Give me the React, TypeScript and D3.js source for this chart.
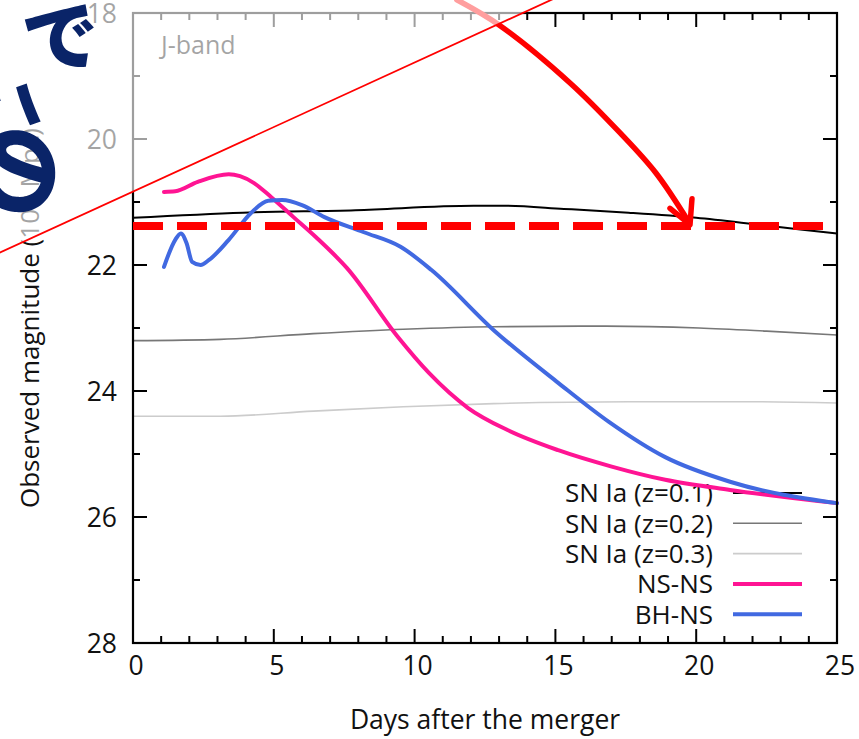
import React from 'react';
import * as d3 from 'd3';

const W = 859;
const H = 739;

const xMajorTicks = [0, 5, 10, 15, 20, 25];
const yMajorTicks = [18, 20, 22, 24, 26, 28];

const sn01Days = [0, 3.9, 7.9, 12.1, 13.2, 15.3, 17.6, 20, 22.4, 25];
const sn01Mag = [21.25, 21.17, 21.13, 21.06, 21.06, 21.11, 21.17, 21.25, 21.37, 21.5];

const sn02Days = [0, 3.1, 6.4, 9.6, 12.8, 16.8, 20.1, 22.5, 25];
const sn02Mag = [23.2, 23.18, 23.09, 23.02, 22.98, 22.97, 23.0, 23.05, 23.11];

const sn03Days = [0, 3.1, 6.4, 9.6, 12.8, 17.6, 21.7, 25];
const sn03Mag = [24.4, 24.4, 24.32, 24.25, 24.2, 24.17, 24.17, 24.19];

const nsnsDays = [1.1, 1.5, 2.3, 3.4, 3.8, 4.3, 4.9, 5.7, 6.5, 7.6, 9.4, 10.5, 11.9, 13.3, 15.1, 17.0, 18.9, 21.2, 25];
const nsnsMag = [20.84, 20.83, 20.68, 20.56, 20.59, 20.7, 20.92, 21.24, 21.56, 22.05, 23.14, 23.71, 24.27, 24.62, 24.94, 25.2, 25.41, 25.57, 25.78];

const bhnsDays = [1.1, 1.5, 1.7, 1.9, 2.1, 2.4, 2.7, 3.4, 4.2, 4.8, 5.3, 6.0, 6.8, 8.2, 9.5, 10.6, 12.8, 15.1, 16.9, 18.9, 21.2, 25];
const bhnsMag = [22.03, 21.6, 21.5, 21.65, 21.95, 22.0, 21.92, 21.6, 21.17, 20.98, 20.97, 21.05, 21.24, 21.48, 21.71, 22.08, 23.03, 23.87, 24.49, 25.05, 25.44, 25.78];

const legendLabels = ['SN Ia (z=0.1)', 'SN Ia (z=0.2)', 'SN Ia (z=0.3)', 'NS-NS', 'BH-NS'];

// annotations (in data units)
const dashedLevel = 21.38;
const arrowDays = [11.5, 13.0, 15.52, 17.29, 18.57, 19.74];
const arrowMags = [17.79, 18.19, 19.11, 19.9, 20.54, 21.32];
const arrowHeadDays = [19.07, 19.78, 19.85];
const arrowHeadMags = [21.1, 21.36, 20.95];
const guideDays = [-5.2, 15.3];
const guideMags = [21.9, 17.7];

const FONT = '"Open Sans", "Noto Sans", sans-serif';

export default function App() {
  const x = d3.scaleLinear().domain([0, 25]).range([133, 837]);
  const y = d3.scaleLinear().domain([18, 28]).range([13, 643]);

  const lineGen = d3
    .line<[number, number]>()
    .x((d) => x(d[0]))
    .y((d) => y(d[1]))
    .curve(d3.curveMonotoneX);

  const zip = (a: number[], b: number[]) => a.map((v, i) => [v, b[i]] as [number, number]);

  const series = [
    { days: sn01Days, mag: sn01Mag, color: '#000000', width: 2 },
    { days: sn02Days, mag: sn02Mag, color: '#777777', width: 1.6 },
    { days: sn03Days, mag: sn03Mag, color: '#cccccc', width: 1.6 },
    { days: nsnsDays, mag: nsnsMag, color: '#ff1493', width: 4 },
    { days: bhnsDays, mag: bhnsMag, color: '#4169e1', width: 4 },
  ];

  const xMinor = d3.range(0, 26, 1);
  const yMinor = d3.range(18, 29, 1);

  const left = x(0), right = x(25), top = y(18), bottom = y(28);

  const legendY0 = 493;
  const legendDy = 30.3;

  const arrowPath = d3
    .line<[number, number]>()
    .x((d) => x(d[0]))
    .y((d) => y(d[1]))
    .curve(d3.curveCatmullRom)(zip(arrowDays, arrowMags)) as string;

  const headPts = zip(arrowHeadDays, arrowHeadMags).map((d) => [x(d[0]), y(d[1])]);

  const g1 = [x(guideDays[0]), y(guideMags[0])];
  const g2 = [x(guideDays[1]), y(guideMags[1])];
  const fadePoly = `M${g1[0]},${g1[1]} L${g2[0]},${g2[1]} L${g2[0]},-20 L-20,-20 L-20,${g1[1]} Z`;

  const navy = '#0a2468';

  return (
    <svg
      width={W}
      height={H}
      style={{ position: 'absolute', left: 0, top: 0, display: 'block', background: '#fff' }}
      fontFamily={FONT}
    >
      <rect x={0} y={0} width={W} height={H} fill="#fff" />

      {/* legend */}
      {legendLabels.map((lab, i) => (
        <g key={lab}>
          <text
            x={713}
            y={legendY0 + i * legendDy}
            dy="0.36em"
            textAnchor="end"
            fontSize={26}
            fill="#111"
          >
            {lab}
          </text>
          <line
            x1={733}
            x2={802}
            y1={legendY0 + i * legendDy}
            y2={legendY0 + i * legendDy}
            stroke={series[i].color}
            strokeWidth={series[i].width}
          />
        </g>
      ))}

      {/* curves */}
      {series.map((s, i) => (
        <path
          key={i}
          d={lineGen(zip(s.days, s.mag)) as string}
          fill="none"
          stroke={s.color}
          strokeWidth={s.width}
          strokeLinejoin="round"
          strokeLinecap="round"
        />
      ))}

      {/* frame */}
      <rect x={left} y={top} width={right - left} height={bottom - top} fill="none" stroke="#000" strokeWidth={2.2} />

      {xMinor.map((t) => {
        const len = t % 5 === 0 ? 14 : 7;
        return (
          <g key={'xt' + t}>
            <line x1={x(t)} x2={x(t)} y1={bottom} y2={bottom - len} stroke="#000" strokeWidth={2} />
            <line x1={x(t)} x2={x(t)} y1={top} y2={top + len} stroke="#000" strokeWidth={2} />
          </g>
        );
      })}
      {yMinor.map((t) => {
        const len = t % 2 === 0 ? 14 : 7;
        return (
          <g key={'yt' + t}>
            <line x1={left} x2={left + len} y1={y(t)} y2={y(t)} stroke="#000" strokeWidth={2} />
            <line x1={right} x2={right - len} y1={y(t)} y2={y(t)} stroke="#000" strokeWidth={2} />
          </g>
        );
      })}

      {xMajorTicks.map((t) => (
        <text key={'xl' + t} x={x(t) + 3} y={665} dy="0.36em" textAnchor="middle" fontSize={26.5} fill="#111">
          {t}
        </text>
      ))}
      {yMajorTicks.map((t) => (
        <text key={'yl' + t} x={117} y={y(t)} dy="0.36em" textAnchor="end" fontSize={26.5} fill="#111">
          {t}
        </text>
      ))}

      <text x={(left + right) / 2} y={719} dy="0.36em" textAnchor="middle" fontSize={26.5} fill="#111">
        Days after the merger
      </text>
      <text
        transform={`translate(30,${318}) rotate(-90)`}
        dy="0.36em"
        textAnchor="middle"
        fontSize={26}
        fill="#111"
      >
        Observed magnitude (100 Mpc)
      </text>

      <text x={161} y={54} fontSize={25} fill="#111">J-band</text>

      {/* annotations */}
      <line
        x1={left}
        x2={right}
        y1={y(dashedLevel)}
        y2={y(dashedLevel)}
        stroke="#ff0000"
        strokeWidth={8}
        strokeDasharray="30 14"
      />
      <path d={arrowPath} fill="none" stroke="#ff0000" strokeWidth={5.5} strokeLinecap="round" />
      <path
        d={`M${headPts[0][0]},${headPts[0][1]} L${headPts[1][0]},${headPts[1][1]} L${headPts[2][0]},${headPts[2][1]}`}
        fill="none"
        stroke="#ff0000"
        strokeWidth={5.5}
        strokeLinecap="round"
        strokeLinejoin="round"
      />

      <path d={fadePoly} fill="#ffffff" fillOpacity={0.62} />
      <line x1={g1[0]} y1={g1[1]} x2={g2[0]} y2={g2[1]} stroke="#ff0000" strokeWidth={1.8} />

      {/* handwriting */}
      <g fill={navy} fontFamily='"Noto Sans CJK JP", sans-serif' fontWeight={900}>
        <text transform="translate(62,40) rotate(-10)" fontSize={76} textAnchor="middle" dy="0.35em">で</text>
        <text transform="translate(8,112) rotate(70)" fontSize={70} textAnchor="middle" dy="0.35em">こ</text>
        <text transform="translate(18,172) rotate(95)" fontSize={92} textAnchor="middle" dy="0.35em">の</text>
      </g>
    </svg>
  );
}
